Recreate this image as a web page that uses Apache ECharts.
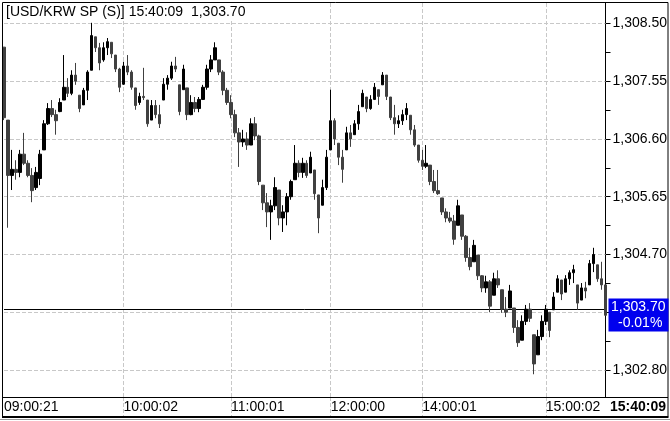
<!DOCTYPE html>
<html><head><meta charset="utf-8">
<script src="https://cdn.jsdelivr.net/npm/echarts@6/dist/echarts.min.js"></script>
<style>html,body{margin:0;padding:0;background:#fff}#c{width:670px;height:421px}</style>
</head><body><div id="c"></div>
<script>
// ---- data (USD/KRW spot, intraday bars) ----
const opens = [1308.11,1306.91,1306.00,1306.10,1306.05,1306.35,1306.20,1306.00,1305.80,1305.95,
1306.42,1306.85,1307.10,1307.00,1307.05,1307.24,1307.45,1307.35,1307.65,1307.32,
1307.16,1307.40,1307.73,1308.28,1308.10,1307.90,1308.10,1308.19,1307.98,1307.75,
1307.50,1307.80,1307.70,1307.44,1307.20,1307.30,1307.24,1306.91,1307.15,1307.00,
1307.24,1307.50,1307.60,1307.80,1307.49,1307.41,1307.44,1307.00,1307.20,1307.10,
1307.25,1307.45,1307.75,1307.90,1307.90,1307.70,1307.40,1307.20,1307.00,1306.70,
1306.55,1306.60,1306.50,1306.85,1306.65,1305.84,1305.55,1305.40,1305.50,1305.76,
1305.30,1305.40,1305.65,1305.93,1306.20,1306.05,1306.20,1306.04,1306.09,1305.68,
1305.51,1305.80,1306.42,1306.90,1306.53,1306.30,1306.42,1306.70,1306.67,1306.85,
1307.13,1307.29,1307.10,1307.25,1307.41,1307.49,1307.65,1307.29,1306.95,1306.85,
1306.90,1307.00,1306.99,1306.75,1306.50,1306.25,1306.15,1306.17,1305.90,1305.75,
1305.63,1305.40,1305.30,1305.25,1305.18,1305.35,1305.00,1304.65,1304.58,1304.69,
1304.35,1304.15,1304.25,1304.03,1304.30,1304.12,1303.80,1303.82,1303.82,1303.50,
1303.29,1303.60,1303.80,1303.38,1303.05,1303.35,1303.60,1303.75,1303.79,1304.08,
1304.28,1304.08,1304.30,1304.40,1304.20,1303.95,1304.15,1304.20,1304.55,1304.53,
1304.30,1304.20];
const closes = [1306.95,1306.00,1306.10,1306.05,1306.35,1306.20,1306.00,1305.75,1306.05,1306.35,
1306.85,1307.10,1307.00,1306.90,1307.20,1307.45,1307.35,1307.65,1307.55,1307.10,
1307.40,1307.70,1308.30,1308.10,1307.85,1308.10,1308.20,1308.00,1307.75,1307.45,
1307.80,1307.70,1307.45,1307.15,1307.30,1307.28,1306.85,1307.15,1307.00,1306.85,
1307.50,1307.60,1307.80,1307.75,1307.05,1307.75,1307.00,1307.20,1307.10,1307.25,
1307.45,1307.75,1307.90,1308.10,1307.70,1307.40,1307.20,1307.00,1306.70,1306.55,
1306.60,1306.50,1306.85,1306.65,1305.90,1305.55,1305.40,1305.50,1305.80,1305.30,
1305.40,1305.65,1305.90,1306.20,1306.05,1306.20,1306.00,1306.30,1305.70,1305.30,
1305.80,1306.30,1306.90,1306.60,1306.30,1306.10,1306.70,1306.60,1306.85,1307.05,
1307.35,1307.10,1307.25,1307.45,1307.30,1307.65,1307.30,1306.95,1306.85,1306.90,
1307.00,1307.10,1306.75,1306.50,1306.25,1306.15,1306.20,1305.90,1305.75,1305.70,
1305.40,1305.30,1305.25,1304.95,1305.50,1305.00,1304.65,1304.50,1304.85,1304.35,
1304.15,1304.25,1303.85,1304.30,1304.20,1303.80,1303.75,1304.10,1303.50,1303.25,
1303.60,1303.80,1303.65,1302.90,1303.35,1303.60,1303.80,1303.45,1304.00,1304.30,
1304.05,1304.30,1304.40,1304.45,1303.90,1304.15,1304.10,1304.55,1304.70,1304.30,
1304.20,1303.70];
const lows = [1306.91,1305.14,1305.76,1305.93,1305.97,1306.17,1305.97,1305.56,1305.76,1305.84,
1306.42,1306.83,1306.96,1306.67,1307.04,1307.24,1307.29,1307.32,1307.49,1307.04,
1307.16,1307.24,1307.73,1308.03,1307.73,1307.87,1307.98,1307.93,1307.70,1307.37,
1307.49,1307.65,1307.41,1307.08,1307.16,1307.24,1306.80,1306.91,1306.94,1306.78,
1307.24,1307.41,1307.57,1307.70,1306.99,1307.41,1306.91,1306.99,1307.04,1307.04,
1307.24,1307.41,1307.70,1307.90,1307.65,1307.32,1307.16,1306.94,1306.63,1306.14,
1306.47,1306.42,1306.50,1306.58,1305.84,1305.43,1305.15,1304.94,1305.43,1305.18,
1305.07,1305.18,1305.60,1305.93,1305.97,1305.96,1305.96,1306.04,1305.60,1305.05,
1305.51,1305.76,1306.42,1306.50,1306.17,1305.88,1306.42,1306.47,1306.67,1306.75,
1307.13,1307.04,1307.08,1307.24,1307.16,1307.49,1307.24,1306.91,1306.67,1306.78,
1306.83,1306.91,1306.67,1306.47,1306.21,1306.09,1306.12,1305.84,1305.71,1305.68,
1305.35,1305.23,1305.22,1304.86,1305.18,1304.94,1304.58,1304.44,1304.58,1304.28,
1304.08,1304.07,1303.75,1304.03,1304.15,1303.74,1303.67,1303.82,1303.41,1303.18,
1303.29,1303.54,1303.59,1302.73,1303.05,1303.29,1303.54,1303.34,1303.79,1304.08,
1303.95,1304.08,1304.20,1304.23,1303.79,1303.95,1303.98,1304.20,1304.41,1304.25,
1304.12,1303.70];
const highs = [1308.11,1306.91,1306.42,1306.25,1306.42,1306.70,1306.25,1306.12,1306.14,1306.42,
1306.91,1307.19,1307.24,1307.08,1307.27,1307.98,1307.60,1307.73,1307.85,1307.32,
1307.44,1307.73,1308.51,1308.28,1308.18,1308.19,1308.26,1308.19,1307.98,1307.77,
1307.87,1307.98,1307.73,1307.44,1307.36,1307.77,1307.24,1307.24,1307.24,1307.16,
1307.60,1307.65,1307.87,1307.95,1307.49,1307.82,1307.44,1307.32,1307.29,1307.29,
1307.49,1307.82,1307.98,1308.19,1307.90,1307.73,1307.44,1307.32,1307.08,1306.78,
1306.75,1306.71,1306.94,1306.96,1306.67,1305.84,1305.71,1305.60,1305.97,1305.76,
1305.51,1305.71,1305.93,1306.50,1306.25,1306.29,1306.25,1306.39,1306.09,1305.68,
1305.93,1306.42,1307.41,1306.94,1306.53,1306.42,1306.80,1306.83,1306.91,1307.16,
1307.41,1307.29,1307.32,1307.52,1307.41,1307.70,1307.65,1307.29,1307.16,1306.99,
1307.08,1307.19,1306.99,1306.83,1306.50,1306.42,1306.50,1306.17,1306.09,1306.09,
1305.63,1305.46,1305.40,1305.35,1305.60,1305.35,1305.02,1304.81,1304.94,1304.69,
1304.36,1304.35,1304.28,1304.40,1304.44,1304.12,1304.00,1304.20,1303.82,1303.62,
1303.70,1303.87,1303.90,1303.38,1303.46,1303.70,1303.87,1303.75,1304.08,1304.36,
1304.28,1304.36,1304.44,1304.53,1304.20,1304.23,1304.25,1304.61,1304.81,1304.53,
1304.58,1304.20];
const categories = opens.map((_, i) => String(i));
const tickIdx  = [0, 30, 57, 82, 105, 136];
const tickText = ['09:00:21', '10:00:02', '11:00:01', '12:00:00', '14:00:01', '15:00:02'];
const lastTime = '15:40:09';
const lastPrice = 1303.70;
const prevClose = 1303.80;
const changeText = '-0.01%';
const yMajor  = [1302.80, 1303.75, 1304.70, 1305.65, 1306.60, 1307.55, 1308.50];
const yMinor  = [1303.275, 1304.225, 1305.175, 1306.125, 1307.075, 1308.025];
const yLabels = [1302.80, 1304.70, 1305.65, 1306.60, 1307.55, 1308.50];
const yMin = 1302.356, yMax = 1308.836;

const FONT = 'Liberation Sans';
const GRID = '#c8c8c8';
const fmt = v => Number(v).toLocaleString('en-US', {minimumFractionDigits: 2, maximumFractionDigits: 2});

const chart = echarts.init(document.getElementById('c'), null, {renderer: 'canvas'});
const ohlc = categories.map((_, i) => [opens[i], closes[i], lows[i], highs[i]]);

chart.setOption({
  animation: false,
  backgroundColor: '#fff',
  textStyle: {fontFamily: FONT},
  grid: {left: 4, right: 62, top: 3, bottom: 24, containLabel: false},
  xAxis: {
    type: 'category', data: categories, boundaryGap: false,
    axisLine: {show: false},
    axisTick: {show: true, length: 19, interval: (i) => tickIdx.includes(i) && i > 0,
      lineStyle: {color: GRID, type: [4, 2]}},
    axisLabel: {interval: (i) => tickIdx.includes(i),
      formatter: (v, i) => tickText[tickIdx.indexOf(i)],
      align: 'left', margin: 3, fontSize: 14, color: '#000', fontFamily: FONT},
    splitLine: {show: true, interval: (i) => tickIdx.includes(i) && i > 0,
      lineStyle: {color: GRID, type: [4, 2]}}
  },
  yAxis: {
    type: 'value', position: 'right', min: yMin, max: yMax,
    axisLine: {show: true, lineStyle: {color: '#000', width: 1}},
    axisTick: {show: true, length: 5, customValues: yMajor.concat(yMinor), lineStyle: {color: '#000'}},
    axisLabel: {customValues: yLabels, formatter: fmt, margin: 7, fontSize: 14, color: '#000', fontFamily: FONT},
    splitLine: {show: false}
  },
  series: [{
    type: 'candlestick',
    data: ohlc,
    barWidth: 3,
    itemStyle: {color: '#000', color0: '#404040', borderColor: '#000', borderColor0: '#404040', borderWidth: 1},
    emphasis: {disabled: true},
    markLine: {
      silent: true, symbol: 'none', z: 1, animation: false,
      label: {show: false},
      emphasis: {disabled: true},
      data: yMajor.map(v => ({yAxis: v, lineStyle: {color: GRID, type: [4, 2], width: 1}}))
        .concat([{yAxis: prevClose, lineStyle: {color: '#000', type: 'solid', width: 1}}])
    }
  }]
});

const py = chart.convertToPixel({yAxisIndex: 0}, lastPrice);
chart.setOption({
  graphic: [
    {type: 'rect', z: 50, silent: true, shape: {x: 2.5, y: 2.5, width: 665.5, height: 414},
      style: {fill: 'none', stroke: '#000', lineWidth: 1}},
    {type: 'line', z: 50, silent: true, shape: {x1: 2, y1: 397.5, x2: 668, y2: 397.5},
      style: {stroke: '#000', lineWidth: 1}},
    {type: 'line', z: 50, silent: true, shape: {x1: 2, y1: 417, x2: 668.5, y2: 417},
      style: {stroke: '#000', lineWidth: 2}},
    {type: 'line', z: 50, silent: true, shape: {x1: 0, y1: 419.5, x2: 670, y2: 419.5},
      style: {stroke: '#9a9a9a', lineWidth: 1}},
    {type: 'text', z: 60, silent: true, x: 3, y: 12,
      style: {text: '[USD/KRW SP (S)] ' + lastTime + '  ' + fmt(lastPrice),
        font: '14px "' + FONT + '"', fill: '#000', verticalAlign: 'middle',
        backgroundColor: '#fff', padding: [2, 3, 2, 3]}},
    {type: 'text', z: 60, silent: true, x: 610, y: 407,
      style: {text: lastTime, font: 'bold 14px "' + FONT + '"', fill: '#000', verticalAlign: 'middle'}},
    {type: 'rect', z: 70, silent: true, shape: {x: 608.5, y: Math.round(py) - 16.5, width: 60, height: 33},
      style: {fill: '#0000ee'}},
    {type: 'text', z: 71, silent: true, x: 611, y: py - 8,
      style: {text: fmt(lastPrice), font: '14px "' + FONT + '"', fill: '#fff', verticalAlign: 'middle'}},
    {type: 'text', z: 71, silent: true, x: 618, y: py + 8,
      style: {text: changeText, font: '14px "' + FONT + '"', fill: '#fff', verticalAlign: 'middle'}}
  ]
});
</script>
</body></html>
